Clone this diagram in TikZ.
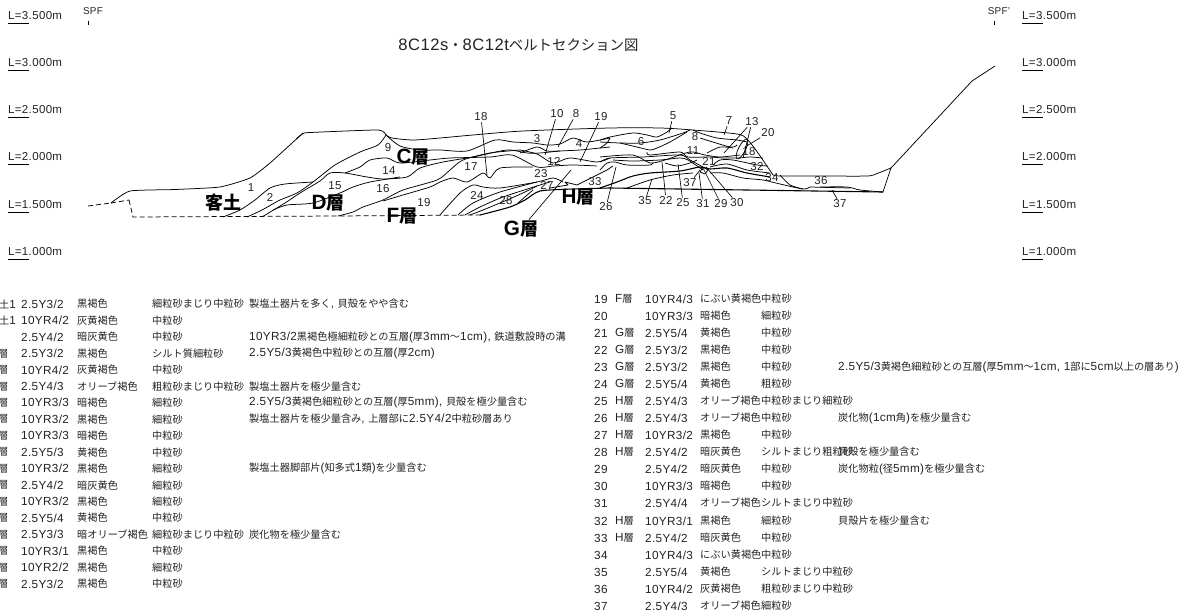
\documentclass[tikz,border=0pt]{standalone}
\usepackage{fontspec}
\setmainfont{Liberation Sans}[Scale=1.15,LetterSpace=3]
\newfontfamily\cjkf{Noto Sans CJK JP}
\XeTeXinterchartokenstate=1
\chardef\cjkc=5
\newcount\cjkn
\cjkn="3000
\loop\ifnum\cjkn<"A000 \XeTeXcharclass\cjkn=\cjkc \advance\cjkn by 1 \repeat
\cjkn="FF00
\loop\ifnum\cjkn<"FFF0 \XeTeXcharclass\cjkn=\cjkc \advance\cjkn by 1 \repeat
\XeTeXinterchartoks 0 5 = {\cjkf}
\XeTeXinterchartoks 5 0 = {\rmfamily}
\XeTeXinterchartoks 4095 5 = {\cjkf}
\XeTeXinterchartoks 4095 0 = {\rmfamily}
\definecolor{ink}{HTML}{222222}
\tikzset{
  strat/.style={line width=.75pt,black,line join=round},
  thick strat/.style={line width=1.1pt,black,line join=round},
  dashline/.style={line width=.75pt,black,dash pattern=on 5pt off 3pt},
  leader/.style={line width=.65pt,black},
  num/.style={inner sep=1pt,text=ink,font=\fontsize{10}{10}\selectfont},
  big/.style={inner sep=1pt,text=black,font=\fontsize{18}{18}\selectfont\bfseries},
  lev/.style={inner sep=0pt,anchor=west,text=ink,font=\fontsize{10}{10}\selectfont},
  cell/.style={inner sep=0pt,anchor=west,text=ink,font=\fontsize{10.2}{10}\selectfont},
  scaleline/.style={line width=.8pt,black}
}
% table row: id, y, code x, code, munsell, colour, soil, note
\newcommand\lrow[7]{%
  \node[cell] (lc#1) at (#3,#2) {#4};
  \node[cell] (lm#1) at (21,#2) {#5};
  \node[cell] (lk#1) at (77,#2) {#6};
  \node[cell] (ls#1) at (152,#2) {#7};
}
\newcommand\lnote[3]{\node[cell] (ln#1) at (249,#2) {#3};}
\newcommand\rrow[6]{%
  \node[cell] (ra#1) at (594,#2) {#1};
  \node[cell] (rc#1) at (615,#2) {#3};
  \node[cell] (rm#1) at (645,#2) {#4};
  \node[cell] (rk#1) at (700,#2) {#5};
  \node[cell] (rs#1) at (761,#2) {#6};
}
\newcommand\rnote[3]{\node[cell] (rn#1) at (838,#2) {#3};}
\newcommand\strat[1]{\draw[strat] plot[smooth,tension=.45] coordinates {#1};}
\begin{document}
\begin{tikzpicture}[x=1pt,y=-1pt]
\useasboundingbox (0,0) rectangle (1185,613);
% levels
\foreach \yy/\tt/\nn in {15.5/3.500/a,63/3.000/b,110/2.500/c,157/2.000/d,205/1.500/e,252/1.000/f}{
  \node[lev] (ll\nn) at (8,\yy) {L=\tt m};
  \node[lev] (lr\nn) at (1022,\yy) {L=\tt m};
  \draw[scaleline] (ll\nn.west)++(0,7.5) -- ++(21,0);
  \draw[scaleline] (lr\nn.west)++(0,7.5) -- ++(21,0);
}
% SPF
\node[num,font=\fontsize{8.6}{10}\selectfont] (spf) at (93,11) {SPF};
\node[num,font=\fontsize{8.6}{10}\selectfont] (spfr) at (999,11) {SPF'};
\coordinate (spfa) at (88,20.5); \coordinate (spfb) at (88,25);
\coordinate (spfc) at (994.5,20.5); \coordinate (spfd) at (994.5,25);
\draw[leader] (spfa) -- (spfb);
\draw[leader] (spfc) -- (spfd);
% title
\node[inner sep=0pt,text=ink,font=\fontsize{14.4}{16}\selectfont] (title) at (518.5,45) {8C12s・8C12tベルトセクション図};
% dashed bottom
\draw[dashline] (88,206) -- (111,203);
\draw[dashline] (129,200) -- (133,217) -- (338,216) -- (480,215);
\draw[dashline] (111,203) -- (129,200);
% surface
\draw[strat] plot[smooth,tension=.3] coordinates {(111,203) (130,191) (175,189.5) (220,187) (250,178) (270,163) (303,133)};
\draw[strat] plot[smooth,tension=.3] coordinates {(296,139) (303,133.5) (310,132.5) (378,130) (386,135)};
\strat{(386,135) (392,138) (413,140) (440,138) (473,135) (523,131) (610,128) (660,128) (693,130) (737,134) (747,139) (758,153) (773,175)}
\strat{(773,175) (780,176) (820,176) (867,176) (877,173.5) (891,168)}
\draw[strat] (891,168) -- (972,81) -- (995,66);
\draw[strat] (891,168) -- (883,192);
% base line
\draw[thick strat] plot[smooth,tension=.4] coordinates {(480,215) (510,207) (525,200) (540,191) (573,189) (610,188)};
\draw[thick strat] (610,188) -- (883,192);
% left strata
\strat{(223,217) (240,210) (255,200) (270,188) (285,184) (313,182)}
\strat{(247,217) (262,210) (280,200) (297,193) (313,182) (335,165) (360,152) (378,145) (386,135)}
\strat{(262,217) (285,203) (300,193) (320,181) (330,173) (345,173) (367,177) (383,179) (407,177) (420,168) (443,162) (473,157) (507,150) (527,153) (540,153) (560,151) (580,150) (610,147)}
\strat{(345,173) (360,167) (370,160) (387,158) (400,163) (430,160) (450,158) (490,157) (512,155) (537,167) (553,166) (573,165) (597,166)}
\strat{(273,210) (287,205) (313,203) (340,193) (353,187) (370,182) (400,177)}
\strat{(338,216) (353,212) (363,207) (383,200) (403,190) (437,180) (450,170) (463,160) (490,153) (520,150)}
\strat{(383,201) (403,195) (430,187) (440,182) (453,178) (467,182) (483,173) (490,178) (500,168) (533,167)}
% upper strata
\strat{(386,135) (400,146) (420,150) (440,150) (467,151) (495,140) (513,142) (533,143) (547,145) (560,144) (573,138) (587,142) (610,138)}
\strat{(520,153) (537,147) (547,151) (560,151)}
\strat{(520,150) (537,154) (553,163) (570,158) (597,162) (610,158)}
\strat{(440,215) (460,193) (473,185) (483,187) (500,188) (537,182) (553,178) (563,182)}
\strat{(458,215) (473,203) (500,192) (537,182)}
\strat{(465,215) (480,207) (503,197) (540,185) (550,182)}
\strat{(470,215) (483,210) (507,200) (525,192) (537,186)}
\draw[strat] (518,203) -- (533,190);
\draw[strat] (550,188) -- (568,185) -- (565,182) -- (577,185) -- (583,182) -- (597,175) -- (607,170) -- (613,166);
% central strata
\strat{(600,140) (610,137) (633,133) (647,135) (657,137) (667,132) (672,128)}
\strat{(600,142) (620,143) (640,143) (660,140) (683,133) (690,130)}
\strat{(620,143) (637,147) (650,150) (657,148) (670,142) (687,132)}
\strat{(600,148) (607,143) (610,138)}
\strat{(693,130) (700,133) (717,138) (737,140) (747,142)}
\strat{(600,157) (633,155) (650,163) (665,160) (690,152) (705,155) (720,157) (740,155)}
\strat{(700,138) (730,147) (737,145)}
\strat{(647,152) (650,155) (680,152) (688,157) (710,157) (723,158) (740,158)}
\strat{(600,162) (610,158) (643,157) (680,155) (690,160) (703,167)}
\strat{(600,170) (607,163) (615,162) (627,165) (650,165) (653,162)}
\strat{(613,160) (633,161) (660,160) (680,158) (688,160) (703,170)}
\strat{(665,163) (677,166) (690,163) (697,160)}
\strat{(740,158) (750,157) (763,158)}
\strat{(707,153) (720,147) (733,148)}
\draw[thick strat] plot[smooth,tension=.45] coordinates {(600,188) (617,182) (633,176) (650,173) (680,171) (700,167) (710,169) (727,168) (747,173) (770,177)};
\strat{(627,188) (650,180) (673,175) (693,173)}
\strat{(710,167) (727,164) (747,170) (770,173)}
\strat{(710,173) (723,173) (743,178) (763,180) (780,184) (803,189) (810,187)}
\strat{(780,175) (790,185) (803,189)}
\strat{(713,165) (720,160) (733,160) (757,165) (768,166)}
\strat{(810,187) (850,188)}
\strat{(820,187) (847,187) (860,190) (883,192)}
\draw[strat,rotate around={63:(742,149)}] (742,149) ellipse (11pt and 3.5pt);
% small mark at 29/30/31
\draw[strat] (700,172) -- (703,167) -- (708,170) -- (705,174) -- cycle;
% numbers
\node[num] (n1) at (251,188) {1};
\node[num] (n2) at (270,197) {2};
\node[num] (n9) at (388,148) {9};
\node[num] (n15) at (335,186) {15};
\node[num] (n16) at (383,189) {16};
\node[num] (n14) at (389,171) {14};
\node[num] (n17) at (471,167) {17};
\node[num] (n18) at (481,117) {18};
\node[num] (n19a) at (424,203) {19};
\node[num] (n3) at (537,139) {3};
\node[num] (n10) at (557,114) {10};
\node[num] (n8a) at (576,114) {8};
\node[num] (n19) at (601,117) {19};
\node[num] (n4) at (579,144) {4};
\node[num] (n12) at (554,161) {12};
\node[num] (n23) at (541,174) {23};
\node[num] (n27) at (547,185) {27};
\node[num] (n24) at (477,195) {24};
\node[num] (n28) at (506,201) {28};
\node[num] (n33) at (595,182) {33};
\node[num] (n26) at (606,207) {26};
\node[num] (n5) at (673,116) {5};
\node[num] (n6) at (641,142) {6};
\node[num] (n8b) at (695,137) {8};
\node[num] (n7) at (729,121) {7};
\node[num] (n13) at (752,122) {13};
\node[num] (n20) at (768,133) {20};
\node[num] (n18b) at (749,152) {18};
\node[num] (n11) at (693,151) {11};
\node[num] (n21) at (709,161) {21};
\node[num] (n32) at (757,167) {32};
\node[num] (n34) at (772,178) {34};
\node[num] (n36) at (821,181) {36};
\node[num] (n37) at (840,204) {37};
\node[num] (n37b) at (690,183) {37};
\node[num] (n35) at (645,201) {35};
\node[num] (n22) at (666,200) {22};
\node[num] (n25) at (683,203) {25};
\node[num] (n31) at (703,204) {31};
\node[num] (n29) at (721,204) {29};
\node[num] (n30) at (737,203) {30};
\node[big] (kd) at (223,203) {客土};
\node[big] (D) at (328,203) {D層};
\node[big] (C) at (413,157) {C層};
\node[big] (F) at (402,216) {F層};
\node[big] (G) at (521,229) {G層};
\node[big] (H) at (578,197) {H層};
% leaders
\coordinate (e18) at (487,175); \draw[leader] (n18) -- (e18);
\coordinate (e10) at (545,155); \draw[leader] (n10) -- (e10);
\coordinate (e8) at (558,147); \draw[leader] (n8a) -- (e8);
\coordinate (e19) at (580,162); \draw[leader] (n19) -- (e19);
\coordinate (eG) at (571,170); \draw[leader] (G) -- (eG);
\coordinate (e26) at (616,167); \draw[leader] (n26) -- (e26);
\coordinate (e5) at (669,133); \draw[leader] (n5) -- (e5);
\coordinate (e7) at (724,135); \draw[leader] (n7) -- (e7);
\coordinate (e13a) at (724,153); \draw[leader] (n13) -- (e13a);
\coordinate (e13b) at (743,158); \draw[leader] (n13) -- (e13b);
\coordinate (e20) at (745,147); \draw[leader] (n20) -- (e20);
\coordinate (e35) at (652,179); \draw[leader] (n35) -- (e35);
\coordinate (e22) at (662,162); \draw[leader] (n22) -- (e22);
\coordinate (e25) at (678,164); \draw[leader] (n25) -- (e25);
\coordinate (e31) at (699,173); \draw[leader] (n31) -- (e31);
\coordinate (e29) at (703,168); \draw[leader] (n29) -- (e29);
\coordinate (e30) at (706,167); \draw[leader] (n30) -- (e30);
\coordinate (e37) at (832,190); \draw[leader] (n37) -- (e37);
\coordinate (e37b) at (700,170); \draw[leader] (n37b) -- (e37b);
% left table
\lrow{1}{304}{-1}{土1}{2.5Y3/2}{黒褐色}{細粒砂まじり中粒砂}
\lnote{1}{304}{製塩土器片を多く, 貝殻をやや含む}
\lrow{2}{320.5}{-1}{土1}{10YR4/2}{灰黄褐色}{中粒砂}
\lrow{3}{337}{-1}{}{2.5Y4/2}{暗灰黄色}{中粒砂}
\lnote{3}{337}{10YR3/2黒褐色極細粒砂との互層(厚3mm～1cm), 鉄道敷設時の溝}
\lrow{4}{353.4}{-2}{層}{2.5Y3/2}{黒褐色}{シルト質細粒砂}
\lnote{4}{353.4}{2.5Y5/3黄褐色中粒砂との互層(厚2cm)}
\lrow{5}{369.9}{-2}{層}{10YR4/2}{灰黄褐色}{中粒砂}
\lrow{6}{386.4}{-2}{層}{2.5Y4/3}{オリーブ褐色}{粗粒砂まじり中粒砂}
\lnote{6}{386.4}{製塩土器片を極少量含む}
\lrow{7}{402.8}{-2}{層}{10YR3/3}{暗褐色}{細粒砂}
\lnote{7}{402.8}{2.5Y5/3黄褐色細粒砂との互層(厚5mm), 貝殻を極少量含む}
\lrow{8}{419.3}{-2}{層}{10YR3/2}{黒褐色}{細粒砂}
\lnote{8}{419.3}{製塩土器片を極少量含み, 上層部に2.5Y4/2中粒砂層あり}
\lrow{9}{435.8}{-2}{層}{10YR3/3}{暗褐色}{中粒砂}
\lrow{10}{452.2}{-2}{層}{2.5Y5/3}{黄褐色}{中粒砂}
\lrow{11}{468.7}{-2}{層}{10YR3/2}{黒褐色}{細粒砂}
\lnote{11}{468.7}{製塩土器脚部片(知多式1類)を少量含む}
\lrow{12}{485.2}{-2}{層}{2.5Y4/2}{暗灰黄色}{細粒砂}
\lrow{13}{501.6}{-2}{層}{10YR3/2}{黒褐色}{細粒砂}
\lrow{14}{518.1}{-2}{層}{2.5Y5/4}{黄褐色}{中粒砂}
\lrow{15}{534.6}{-2}{層}{2.5Y3/3}{暗オリーブ褐色}{細粒砂まじり中粒砂}
\lnote{15}{534.6}{炭化物を極少量含む}
\lrow{16}{551}{-2}{層}{10YR3/1}{黒褐色}{中粒砂}
\lrow{17}{567.5}{-2}{層}{10YR2/2}{黒褐色}{細粒砂}
\lrow{18}{584}{-2}{層}{2.5Y3/2}{黒褐色}{中粒砂}
% right table
\rrow{19}{299}{F層}{10YR4/3}{にぶい黄褐色}{中粒砂}
\rrow{20}{316}{}{10YR3/3}{暗褐色}{細粒砂}
\rrow{21}{333}{G層}{2.5Y5/4}{黄褐色}{中粒砂}
\rrow{22}{350}{G層}{2.5Y3/2}{黒褐色}{中粒砂}
\rrow{23}{367}{G層}{2.5Y3/2}{黒褐色}{中粒砂}
\rnote{23}{367}{2.5Y5/3黄褐色細粒砂との互層(厚5mm～1cm, 1部に5cm以上の層あり)}
\rrow{24}{384}{G層}{2.5Y5/4}{黄褐色}{粗粒砂}
\rrow{25}{401}{H層}{2.5Y4/3}{オリーブ褐色}{中粒砂まじり細粒砂}
\rrow{26}{418}{H層}{2.5Y4/3}{オリーブ褐色}{中粒砂}
\rnote{26}{418}{炭化物(1cm角)を極少量含む}
\rrow{27}{435}{H層}{10YR3/2}{黒褐色}{中粒砂}
\rrow{28}{452}{H層}{2.5Y4/2}{暗灰黄色}{シルトまじり粗粒砂}
\rnote{28}{452}{貝殻を極少量含む}
\rrow{29}{469}{}{2.5Y4/2}{暗灰黄色}{中粒砂}
\rnote{29}{469}{炭化物粒(径5mm)を極少量含む}
\rrow{30}{486}{}{10YR3/3}{暗褐色}{中粒砂}
\rrow{31}{503}{}{2.5Y4/4}{オリーブ褐色}{シルトまじり中粒砂}
\rrow{32}{521}{H層}{10YR3/1}{黒褐色}{細粒砂}
\rnote{32}{521}{貝殻片を極少量含む}
\rrow{33}{538}{H層}{2.5Y4/2}{暗灰黄色}{中粒砂}
\rrow{34}{555}{}{10YR4/3}{にぶい黄褐色}{中粒砂}
\rrow{35}{572}{}{2.5Y5/4}{黄褐色}{シルトまじり中粒砂}
\rrow{36}{589}{}{10YR4/2}{灰黄褐色}{粗粒砂まじり中粒砂}
\rrow{37}{606}{}{2.5Y4/3}{オリーブ褐色}{細粒砂}
\end{tikzpicture}
\end{document}
